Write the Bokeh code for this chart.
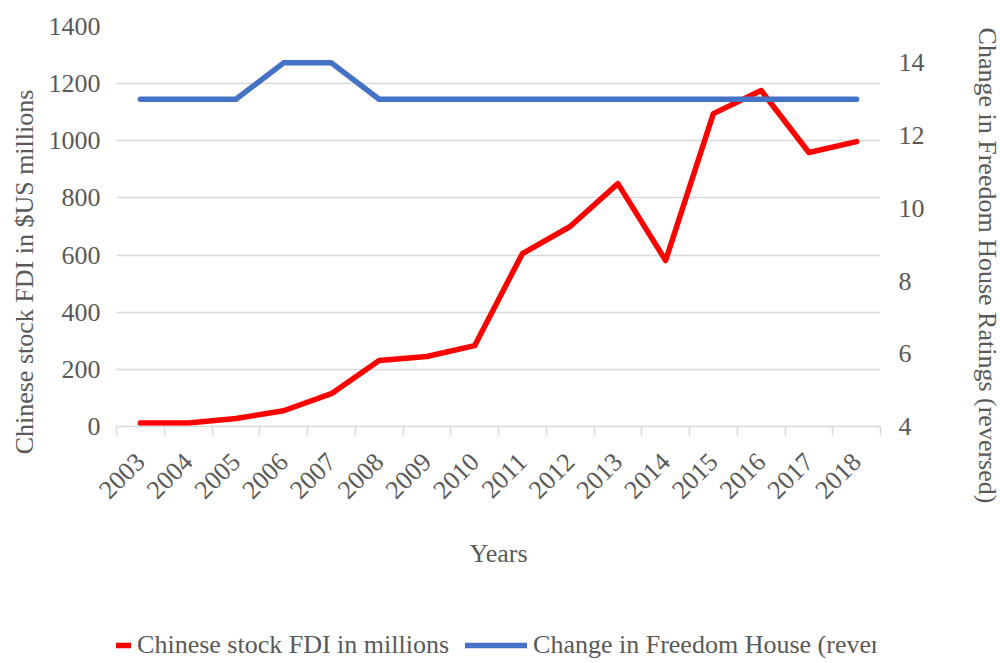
import math
from bokeh.plotting import figure
from bokeh.layouts import column
from bokeh.models import (Range1d, LinearAxis, FixedTicker, Title,
                          Legend, LegendItem, ColumnDataSource)
from bokeh.embed import file_html
from bokeh.resources import INLINE

years = ["2003", "2004", "2005", "2006", "2007", "2008", "2009", "2010",
         "2011", "2012", "2013", "2014", "2015", "2016", "2017", "2018"]
fdi = [12, 12, 28, 55, 115, 231, 245, 283, 605, 700, 850, 581, 1095, 1176, 959, 997]
freedom = [13, 13, 13, 14, 14, 13, 13, 13, 13, 13, 13, 13, 13, 13, 13, 13]
left_ticks = [0, 200, 400, 600, 800, 1000, 1200, 1400]
right_ticks = [4, 6, 8, 10, 12, 14]
series_names = ["Chinese stock FDI in millions", "Change in Freedom House (reversed)"]
series_colors = ["#FF0000", "#4472C4"]

FONT = "Liberation Serif"
TXT = "#595959"
GRID = "#d9d9d9"
FS = "26px"
NB = "\u00a0"

# category positions: each year sits in the middle of its slot
xpos = [i + 0.5 for i in range(len(years))]
src = ColumnDataSource(dict(x=xpos, year=years, fdi=fdi, freedom=freedom))

p = figure(frame_width=764, frame_height=400, x_range=Range1d(0, len(years)),
           y_range=Range1d(0, 1400), output_backend="svg", toolbar_location=None,
           x_axis_location=None, y_axis_location=None,
           min_border_left=116, min_border_right=120, min_border_top=26, min_border_bottom=201)
p.outline_line_color = None
p.background_fill_color = "white"
p.extra_y_ranges = {"right": Range1d(4, 15)}

# left axis
ly = LinearAxis(ticker=FixedTicker(ticks=left_ticks))
ly.axis_line_color = None
ly.major_tick_line_color = None
ly.minor_tick_line_color = None
ly.major_label_text_font = FONT
ly.major_label_text_font_size = FS
ly.major_label_text_color = TXT
ly.major_label_standoff = 10
p.add_layout(ly, "left")

left_title = Title(text="Chinese stock FDI in $US millions" + NB * 14, align="center",
                   text_font=FONT, text_font_size=FS, text_color=TXT, text_font_style="normal")
try:
    left_title.standoff = 14
except Exception:
    pass
p.add_layout(left_title, "left")

# right axis
ry = LinearAxis(y_range_name="right", ticker=FixedTicker(ticks=right_ticks),
                axis_label=NB * 12 + "Change in Freedom House Ratings (reversed)")
ry.axis_line_color = None
ry.major_tick_line_color = None
ry.minor_tick_line_color = None
ry.major_label_text_font = FONT
ry.major_label_text_font_size = FS
ry.major_label_text_color = TXT
ry.major_label_standoff = 12
ry.axis_label_text_font = FONT
ry.axis_label_text_font_size = FS
ry.axis_label_text_color = TXT
ry.axis_label_text_font_style = "normal"
ry.axis_label_standoff = 45
ry.axis_label_orientation = "vertical"
p.add_layout(ry, "right")

# tick-only bottom axis (boundaries between categories)
tx = LinearAxis(ticker=FixedTicker(ticks=list(range(len(years) + 1))))
tx.axis_line_color = GRID
tx.axis_line_width = 1.5
tx.major_tick_line_color = GRID
tx.major_tick_line_width = 1.5
tx.major_tick_out = 9
tx.major_tick_in = 0
tx.minor_tick_line_color = None
tx.major_label_text_font_size = "1px"
tx.major_label_text_color = None
tx.major_label_standoff = 0
p.add_layout(tx, "below")

# category label axis
cx = LinearAxis(ticker=FixedTicker(ticks=xpos), axis_label="Years",
                major_label_overrides={x: y for x, y in zip(xpos, years)})
cx.axis_line_color = None
cx.major_tick_line_color = None
cx.minor_tick_line_color = None
cx.major_label_orientation = math.pi / 4
cx.major_label_text_font = FONT
cx.major_label_text_font_size = FS
cx.major_label_text_color = TXT
cx.major_label_standoff = 16
cx.axis_label_text_font = FONT
cx.axis_label_text_font_size = FS
cx.axis_label_text_color = TXT
cx.axis_label_text_font_style = "normal"
cx.axis_label_standoff = 30
p.add_layout(cx, "below")

p.ygrid.ticker = FixedTicker(ticks=left_ticks)
p.ygrid.grid_line_color = GRID
p.ygrid.grid_line_width = 1.5
p.xgrid.grid_line_color = None

p.line("x", "fdi", source=src, color=series_colors[0], line_width=5.5,
       line_cap="round", line_join="round")
p.line("x", "freedom", source=src, y_range_name="right", color=series_colors[1],
       line_width=5.5, line_cap="round", line_join="round")

# legend strip underneath the chart
lg = figure(width=1000, height=36, x_range=Range1d(0, 1), y_range=Range1d(0, 1),
            output_backend="svg", toolbar_location=None,
            x_axis_location=None, y_axis_location=None, min_border=0)
lg.outline_line_color = None
lg.grid.visible = False
items = []
for name, col in zip(series_names, series_colors):
    r = lg.line(x=[-3, -2], y=[-3, -3], color=col, line_width=5.5, line_cap="round")
    items.append(LegendItem(label=name, renderers=[r]))

legend = Legend(items=items, orientation="horizontal", location="center")
legend.label_text_font = FONT
legend.label_text_font_size = FS
legend.label_text_color = TXT
legend.glyph_width = 62
legend.glyph_height = 20
legend.label_standoff = 6
legend.spacing = 16
legend.padding = 0
legend.margin = 0
legend.border_line_color = None
legend.background_fill_alpha = 0
lg.add_layout(legend, "center")

layout = column(p, lg)
open("out.html", "w").write(file_html(layout, INLINE))
